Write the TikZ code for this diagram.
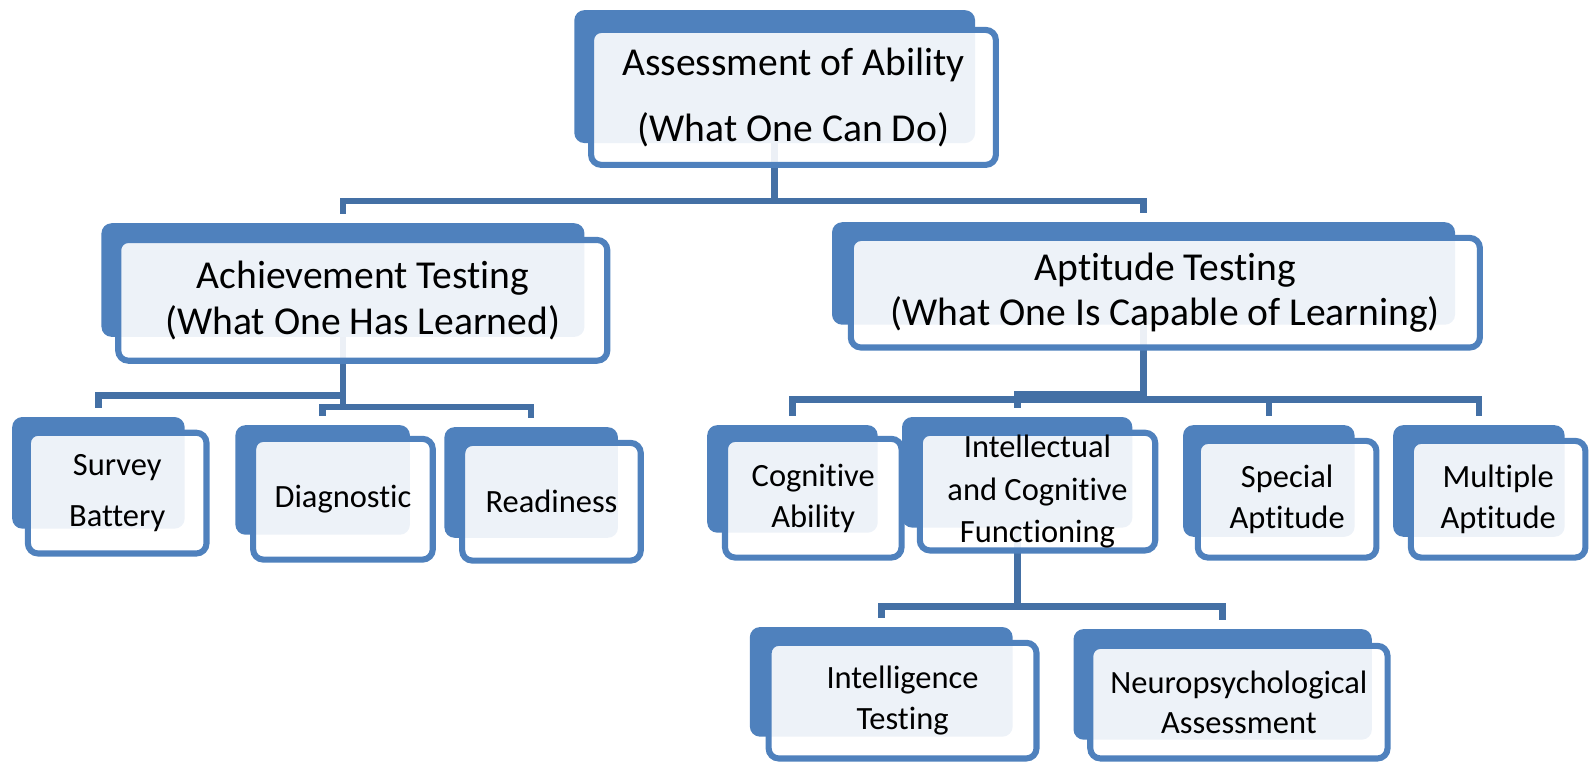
\documentclass[tikz,border=0pt]{standalone}
\usepackage{fontspec}
\setmainfont{Carlito}[Ligatures={NoCommon,NoContextual},Contextuals=NoAlternate]
\usepackage{tikz}
\usepackage{xcolor}

\definecolor{boxblue}{RGB}{79,129,189}
\definecolor{lineblue}{RGB}{68,112,165}

\begin{document}
\begin{tikzpicture}[x=1pt,y=-1pt,
  back/.style={rectangle,rounded corners=10pt,fill=boxblue,inner sep=0pt},
  front/.style={rectangle,rounded corners=10pt,draw=boxblue,line width=6pt,fill=white,fill opacity=0.9,text opacity=1,inner sep=0pt,align=center,font=\fontsize{32}{40}\selectfont},
  big/.style={font=\fontsize{39}{45}\selectfont},
  conn/.style={lineblue,line width=6.5pt,shorten >=9pt}]
\useasboundingbox (0,0) rectangle (1568,751);
% back boxes
\node [back, minimum width=395, minimum height=131] (assess) at (763.5,75.5){};
\node [back, minimum width=476, minimum height=112] (achieve) at (338,276){};
\node [back, minimum width=614, minimum height=101] (aptitude) at (1127,269.5){};
\node [back, minimum width=170, minimum height=110] (survey) at (97,466){};
\node [back, minimum width=172, minimum height=108] (diagnostic) at (318,473){};
\node [back, minimum width=171, minimum height=109] (readiness) at (523.5,475.5){};
\node [back, minimum width=168, minimum height=106] (cognitive) at (781,472){};
\node [back, minimum width=227, minimum height=109] (intellect) at (1002.5,465.5){};
\node [back, minimum width=169, minimum height=110] (special) at (1250.5,474){};
\node [back, minimum width=169, minimum height=110] (multiple) at (1457.5,474){};
\node [back, minimum width=259, minimum height=108] (intelligence) at (868.5,672){};
\node [back, minimum width=294, minimum height=109] (neuro) at (1205,674.5){};
% connectors
\coordinate (bus0) at (0,198);
\coordinate (bus1) at (0,390);
\coordinate (bus2) at (0,401);
\coordinate (bus3) at (0,389);
\coordinate (bus4) at (0,394);
\coordinate (bus5) at (0,598);
\draw[conn] (assess.south) -- (assess.south |- bus0) -| (achieve.north);
\draw[conn] (assess.south) -- (assess.south |- bus0) -| (aptitude.north);
\draw[conn] (achieve.south) -- (achieve.south |- bus1) -| (survey.north);
\draw[conn] (achieve.south) -- (achieve.south |- bus2) -| (diagnostic.north);
\draw[conn] (achieve.south) -- (achieve.south |- bus2) -| (readiness.north);
\draw[conn] (aptitude.south) -- (aptitude.south |- bus3) -| (intellect.north);
\draw[conn] (aptitude.south) -- (aptitude.south |- bus4) -| (cognitive.north);
\draw[conn] (aptitude.south) -- (aptitude.south |- bus4) -| (special.north);
\draw[conn] (aptitude.south) -- (aptitude.south |- bus4) -| (multiple.north);
\draw[conn] (intellect.south) -- (intellect.south |- bus5) -| (intelligence.north);
\draw[conn] (intellect.south) -- (intellect.south |- bus5) -| (neuro.north);
% front boxes with the texts
\node [front, big, font=\fontsize{39}{65}\selectfont, minimum width=399, minimum height=133] (assessF) at (782,96){Assessment of Ability\\(What One Can Do)};
\node [front, big, minimum width=482, minimum height=119] (achieveF) at (357.5,296){Achievement Testing\\(What One Has Learned)};
\node [front, big, minimum width=620, minimum height=108] (aptitudeF) at (1148.5,288.5){Aptitude Testing\\(What One Is Capable of Learning)};
\node [front, font=\fontsize{32}{50}\selectfont, minimum width=176, minimum height=119] (surveyF) at (115.5,486){Survey\\Battery};
\node [front, minimum width=177, minimum height=119] (diagnosticF) at (338,492){Diagnostic};
\node [front, minimum width=176, minimum height=116] (readinessF) at (543.5,494.5){Readiness};
\node [front, minimum width=174, minimum height=117] (cognitiveF) at (801.5,491){Cognitive\\Ability};
\node [front, font=\fontsize{32}{42}\selectfont, minimum width=232, minimum height=116] (intellectF) at (1022.5,484.5){Intellectual\\and Cognitive\\Functioning};
\node [front, minimum width=176, minimum height=115] (specialF) at (1268.5,492){Special\\Aptitude};
\node [front, minimum width=172, minimum height=115] (multipleF) at (1476.5,492){Multiple\\Aptitude};
\node [front, minimum width=264, minimum height=114] (intelligenceF) at (889.5,690.5){Intelligence\\Testing};
\node [front, minimum width=293, minimum height=111] (neuroF) at (1221,692){Neuropsychological\\Assessment};
\end{tikzpicture}
\end{document}
